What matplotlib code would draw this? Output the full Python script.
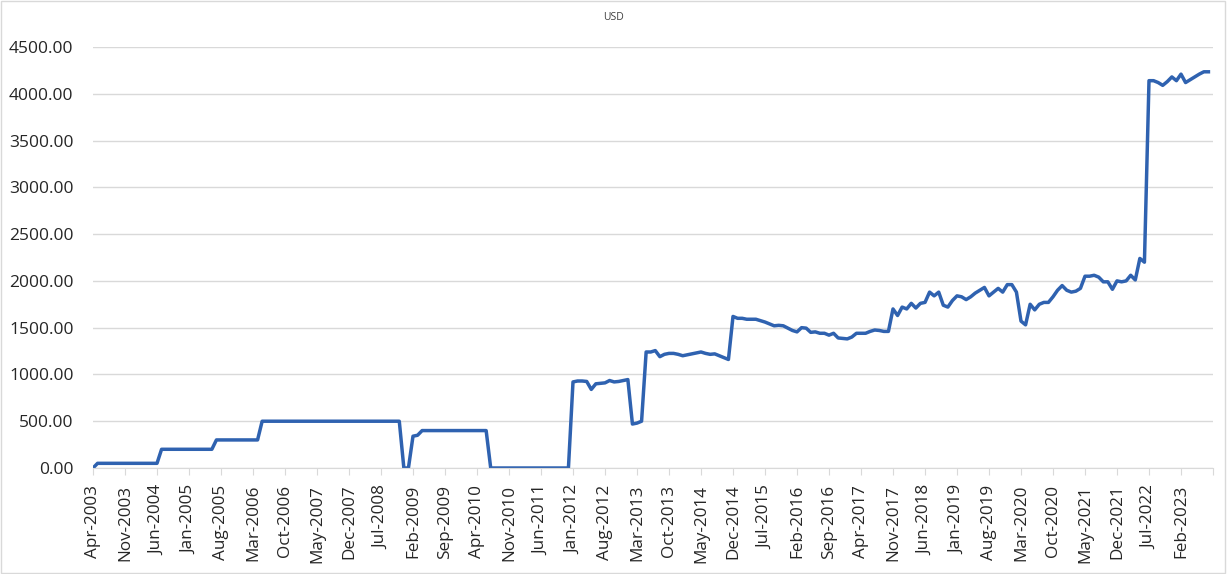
import matplotlib
matplotlib.use('Agg')
import matplotlib.pyplot as plt
import pandas as pd

# monthly USD values, Apr-2003 .. Aug-2023
y2003 = [0, 50, 50, 50, 50, 50, 50, 50, 50]
y2004 = [50, 50, 50, 50, 50, 50, 200, 200, 200, 200, 200, 200]
y2005 = [200, 200, 200, 200, 200, 200, 300, 300, 300, 300, 300, 300]
y2006 = [300, 300, 300, 300, 500, 500, 500, 500, 500, 500, 500, 500]
y2007 = [500, 500, 500, 500, 500, 500, 500, 500, 500, 500, 500, 500]
y2008 = [500, 500, 500, 500, 500, 500, 500, 500, 500, 500, 500, 0]
y2009 = [0, 340, 350, 400, 400, 400, 400, 400, 400, 400, 400, 400]
y2010 = [400, 400, 400, 400, 400, 400, 0, 0, 0, 0, 0, 0]
y2011 = [0, 0, 0, 0, 0, 0, 0, 0, 0, 0, 0, 0]
y2012 = [920, 930, 930, 925, 840, 900, 905, 910, 935, 920, 925, 935]
y2013 = [945, 470, 480, 500, 1240, 1240, 1255, 1190, 1215, 1225, 1225, 1215]
y2014 = [1200, 1210, 1220, 1230, 1240, 1225, 1215, 1220, 1200, 1180, 1160, 1620]
y2015 = [1600, 1600, 1590, 1590, 1590, 1575, 1560, 1540, 1520, 1525, 1520, 1495]
y2016 = [1470, 1455, 1500, 1495, 1450, 1455, 1440, 1440, 1420, 1440, 1390, 1385]
y2017 = [1380, 1400, 1440, 1440, 1440, 1460, 1475, 1470, 1460, 1460, 1700, 1630]
y2018 = [1720, 1700, 1760, 1710, 1760, 1770, 1880, 1840, 1880, 1740, 1720, 1790]
y2019 = [1840, 1830, 1800, 1830, 1870, 1900, 1930, 1840, 1880, 1920, 1880, 1960]
y2020 = [1960, 1880, 1570, 1530, 1750, 1690, 1750, 1770, 1770, 1830, 1900, 1950]
y2021 = [1900, 1880, 1890, 1920, 2050, 2050, 2060, 2040, 1990, 1990, 1910, 2000]
y2022 = [1990, 2000, 2060, 2010, 2240, 2200, 4140, 4140, 4120, 4090, 4130, 4180]
y2023 = [4140, 4210, 4120, 4150, 4180, 4210, 4235, 4235]

usd = (y2003 + y2004 + y2005 + y2006 + y2007 + y2008 + y2009 + y2010 + y2011
       + y2012 + y2013 + y2014 + y2015 + y2016 + y2017 + y2018 + y2019 + y2020
       + y2021 + y2022 + y2023)
months = pd.date_range('2003-04-01', periods=len(usd), freq='MS')
labels = [d.strftime('%b-%Y') for d in months]

plt.rcParams['font.family'] = ['Open Sans', 'DejaVu Sans']

fig = plt.figure(figsize=(12.27, 5.74), dpi=100)
ax = fig.add_axes([93/1227, 1-468/574, 1120/1227, 421/574])

x = list(range(len(usd)))
ax.plot(x, usd, color='#2f62b0', lw=2.5, solid_joinstyle='round')

ax.set_ylim(0, 4500)
ax.set_yticks(range(0, 4501, 500))
ax.set_yticklabels(['%.2f' % v for v in range(0, 4501, 500)])
ax.set_xlim(0, len(usd))
ticks = list(range(0, len(usd) + 1, 7))
ax.set_xticks(ticks)
ax.set_xticklabels([labels[t] if t < len(labels) else '' for t in ticks], rotation=90)

ax.grid(axis='y', color='#d9d9d9', lw=1)
ax.set_axisbelow(True)
for s in ['top', 'right', 'left']:
    ax.spines[s].set_visible(False)
ax.spines['bottom'].set_color('#d9d9d9')
ax.tick_params(axis='y', length=0, pad=14, labelsize=12.5, labelcolor='#262626')
ax.tick_params(axis='x', length=5, color='#d9d9d9', pad=7, labelsize=12.3, labelcolor='#262626')

fig.text(0.5, 1-17/574, 'USD', ha='center', va='center', fontsize=7.5, color='#404040')
fig.patches.append(plt.Rectangle((0.001, 0.002), 0.997, 0.996, transform=fig.transFigure,
                                 fill=False, edgecolor='#d9d9d9', lw=1))

fig.savefig('out.png', dpi=100)
